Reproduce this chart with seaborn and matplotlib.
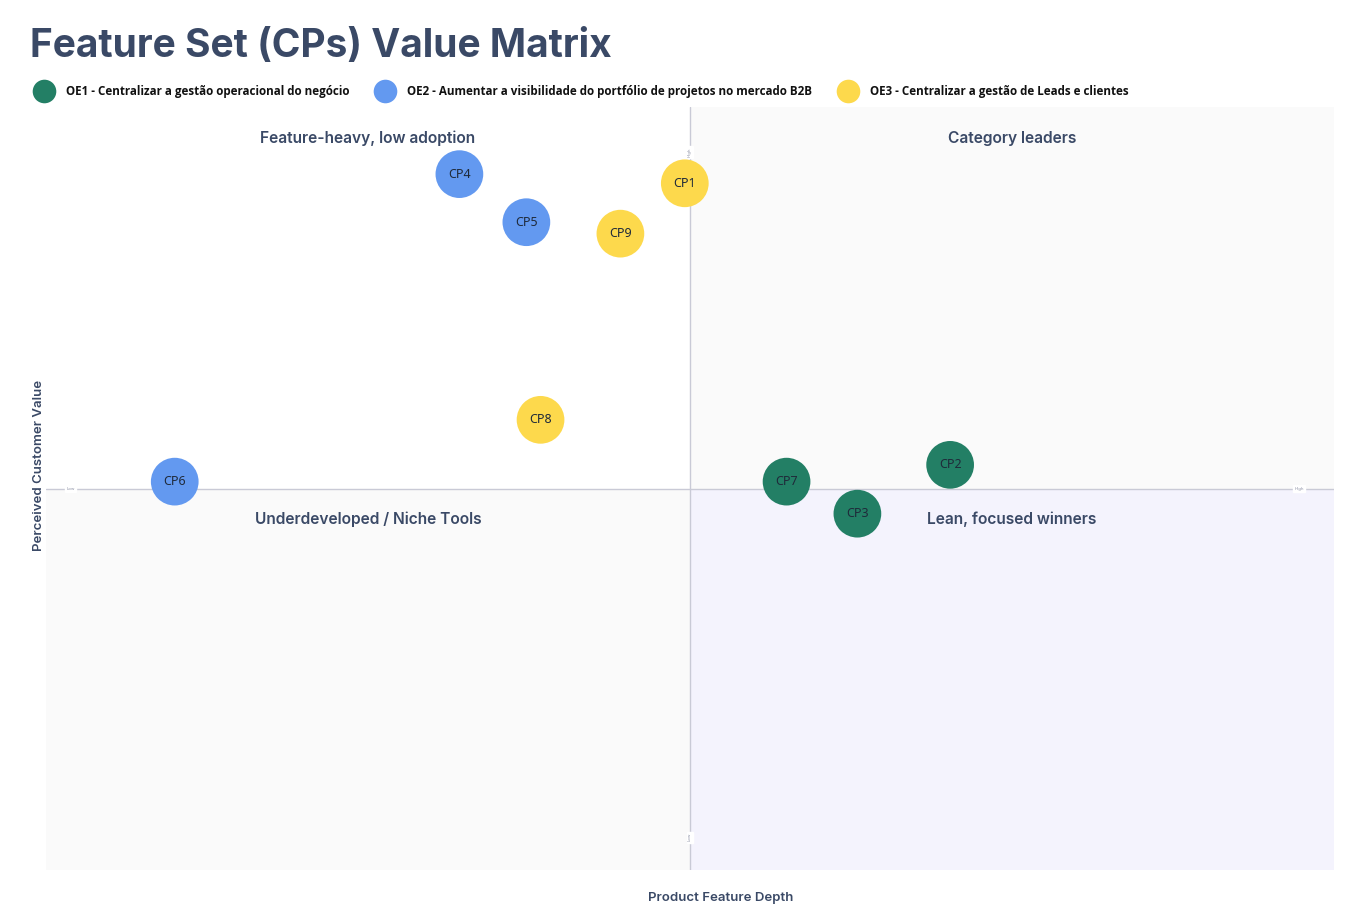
# plot.py
# - Quadrant scatter of feature sets (CPs) by value vs depth
# - Points colored by strategic objective (OE)

import matplotlib.pyplot as plt
import pandas as pd
import seaborn as sns
from matplotlib.lines import Line2D

# Data (0-100 scale, 50 = midpoint)
cp_labels = ["CP1", "CP2", "CP3", "CP4", "CP5", "CP6", "CP7", "CP8", "CP9"]
feature_depth = [49.6, 70.2, 63.0, 32.1, 37.3, 10.0, 57.5, 38.4, 44.6]
customer_value = [90.0, 53.1, 46.7, 91.2, 84.9, 50.9, 50.9, 59.0, 83.4]
objective = ["OE3", "OE1", "OE1", "OE2", "OE2", "OE2", "OE1", "OE3", "OE3"]

objective_names = {
    "OE1": "OE1 - Centralizar a gestão operacional do negócio",
    "OE2": "OE2 - Aumentar a visibilidade do portfólio de projetos no mercado B2B",
    "OE3": "OE3 - Centralizar a gestão de Leads e clientes",
}
palette = {"OE1": "#237f65", "OE2": "#6399f0", "OE3": "#fdd94c"}

quadrant_titles = [
    "Feature-heavy, low adoption",
    "Category leaders",
    "Underdeveloped / Niche Tools",
    "Lean, focused winners",
]

TEXT = "#3a4966"
LINE = "#c9cad6"


def main():
    df = pd.DataFrame(
        {
            "cp": cp_labels,
            "depth": feature_depth,
            "value": customer_value,
            "objective": objective,
        }
    )

    sns.set_theme(style="white")
    plt.rcParams["font.family"] = ["Inter", "DejaVu Sans"]

    fig = plt.figure(figsize=(13.63, 9.16), dpi=100)
    ax = fig.add_axes([0.0337, 0.0502, 0.945, 0.833])

    # Quadrant backgrounds
    ax.fill_between([0, 50], 50, 100, color="#ffffff", zorder=0, lw=0)
    ax.fill_between([50, 100], 50, 100, color="#fafafa", zorder=0, lw=0)
    ax.fill_between([0, 50], 0, 50, color="#fafafa", zorder=0, lw=0)
    ax.fill_between([50, 100], 0, 50, color="#f4f3fd", zorder=0, lw=0)

    # Midlines
    ax.axhline(50, color=LINE, lw=1, zorder=1)
    ax.axvline(50, color=LINE, lw=1, zorder=1)

    # Tiny end labels on the midlines
    small = dict(fontsize=3, color="#8a8fa3", zorder=2)
    ax.text(1.9, 50, "Low", ha="center", va="center", backgroundcolor="white", **small)
    ax.text(97.3, 50, "High", ha="center", va="center", backgroundcolor="white", **small)
    ax.text(50, 94.1, "High", ha="center", va="center", rotation=90, backgroundcolor="white", **small)
    ax.text(50, 4.3, "Low", ha="center", va="center", rotation=90, backgroundcolor="white", **small)

    # Scatter points
    sns.scatterplot(
        data=df,
        x="depth",
        y="value",
        hue="objective",
        palette=palette,
        s=1180,
        edgecolor="none",
        legend=False,
        ax=ax,
        zorder=3,
    )
    for _, row in df.iterrows():
        ax.text(
            row["depth"], row["value"], row["cp"],
            ha="center", va="center", fontsize=9,
            color="#1f2a3a", family=["Noto Sans", "DejaVu Sans"], zorder=4,
        )

    # Quadrant titles
    quad_pos = [(25, 95.9), (75, 95.9), (25, 46.0), (75, 46.0)]
    for (qx, qy), title in zip(quad_pos, quadrant_titles):
        ax.text(qx, qy, title, ha="center", va="center", fontsize=11.2,
                fontweight="semibold", color=TEXT, zorder=2)

    ax.set_xlim(0, 100)
    ax.set_ylim(0, 100)
    ax.set_xticks([])
    ax.set_yticks([])
    for spine in ax.spines.values():
        spine.set_visible(False)

    ax.set_xlabel("Product Feature Depth", fontsize=9.5, fontweight="semibold",
                  color=TEXT)
    ax.xaxis.set_label_coords(0.524, -0.029)
    ax.set_ylabel("Perceived Customer Value", fontsize=9.5, fontweight="semibold",
                  color=TEXT)
    ax.yaxis.set_label_coords(-0.001, 0.53)

    # Title
    fig.text(0.022, 0.949, "Feature Set (CPs) Value Matrix", fontsize=28,
             fontweight="bold", color=TEXT, ha="left", va="center")

    # Legend
    handles = [
        Line2D([0], [0], marker="o", linestyle="none", markersize=17,
               markerfacecolor=palette[k], markeredgecolor="none")
        for k in objective_names
    ]
    fig.legend(
        handles, list(objective_names.values()),
        loc="center left", bbox_to_anchor=(0.016, 0.9005), ncol=3,
        frameon=False, handletextpad=0.85, columnspacing=2.1,
        prop={"family": ["Open Sans", "DejaVu Sans"], "weight": "bold", "size": 8.4},
        labelcolor="#111111",
    )

    fig.savefig("out.png", dpi=100)


if __name__ == "__main__":
    main()
